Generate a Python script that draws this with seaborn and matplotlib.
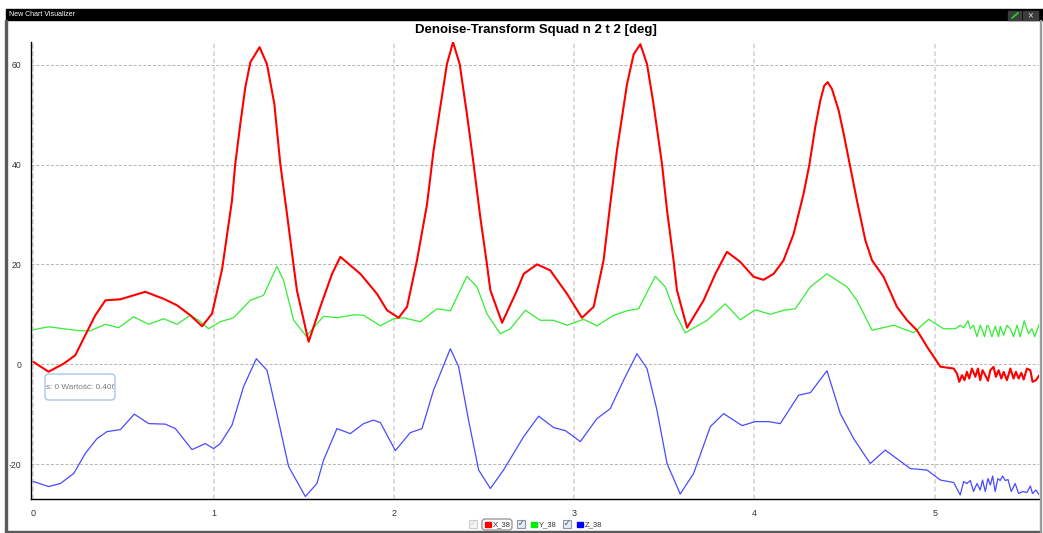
import matplotlib
matplotlib.use('Agg')
import matplotlib.pyplot as plt
import matplotlib.ticker as mticker
from matplotlib.patches import Rectangle, FancyBboxPatch
from matplotlib.lines import Line2D
from matplotlib.transforms import IdentityTransform, Bbox
import seaborn as sns

# --- data (time in s, angle in deg) ---
x38_t = [0.000, 0.085, 0.168, 0.233, 0.288, 0.344, 0.400, 0.483, 0.538, 0.621,
         0.723, 0.797, 0.871, 0.936, 0.991, 1.047, 1.102, 1.120, 1.148, 1.176,
         1.204, 1.255, 1.296, 1.337, 1.370, 1.407, 1.440, 1.462, 1.527, 1.592,
         1.657, 1.703, 1.814, 1.906, 1.962, 2.026, 2.073, 2.128, 2.184, 2.220,
         2.257, 2.294, 2.328, 2.365, 2.405, 2.442, 2.479, 2.513, 2.535, 2.600,
         2.683, 2.720, 2.794, 2.867, 2.960, 3.043, 3.108, 3.163, 3.200, 3.237,
         3.293, 3.330, 3.367, 3.404, 3.440, 3.487, 3.515, 3.551, 3.570, 3.626,
         3.718, 3.783, 3.847, 3.921, 3.995, 4.050, 4.106, 4.161, 4.217, 4.272,
         4.305, 4.337, 4.365, 4.387, 4.406, 4.430, 4.467, 4.495, 4.528, 4.568,
         4.615, 4.652, 4.716, 4.790, 4.846, 4.901, 4.957, 5.031, 5.105, 5.123,
         5.136, 5.151, 5.165, 5.178, 5.191, 5.206, 5.225, 5.239, 5.252, 5.265,
         5.280, 5.295, 5.308, 5.326, 5.339, 5.354, 5.369, 5.382, 5.400, 5.419,
         5.437, 5.450, 5.465, 5.480, 5.493, 5.511, 5.530, 5.542, 5.561, 5.580]
x38_v = [0.46, -1.5, 0.1, 1.8, 5.8, 9.8, 12.8, 13.0, 13.6, 14.5,
         13.1, 11.8, 9.8, 7.6, 10.1, 19.0, 32.8, 40.1, 48.1, 55.5,
         60.5, 63.5, 60.1, 52.1, 40.1, 30.1, 20.8, 14.8, 4.5, 11.5,
         18.1, 21.5, 18.1, 14.1, 10.8, 9.3, 11.5, 20.8, 32.1, 42.8,
         51.5, 60.1, 64.5, 60.1, 50.1, 40.1, 29.5, 20.8, 14.8, 8.3,
         14.8, 18.1, 20.0, 18.8, 14.1, 9.3, 11.5, 20.8, 32.1, 42.8,
         56.1, 62.1, 64.1, 60.1, 52.1, 40.1, 30.8, 20.8, 14.8, 7.3,
         12.8, 18.1, 22.5, 20.5, 17.5, 16.9, 18.1, 20.8, 26.1, 34.1,
         40.1, 47.5, 52.8, 55.8, 56.5, 55.1, 50.8, 46.1, 40.1, 32.8,
         24.8, 20.8, 17.5, 11.5, 8.8, 6.8, 3.5, -0.5, -0.87, -1.87,
         -3.53, -2.2, -3.2, -1.53, -2.87, -0.87, -2.53, -0.87, -3.2, -1.2,
         -2.2, -3.33, -1.2, -0.53, -2.53, -1.2, -2.87, -1.53, -3.2, -0.87,
         -2.87, -1.53, -2.87, -1.73, -3.07, -0.87, -1.2, -3.53, -3.2, -2.2]

y38_t = [0.000, 0.085, 0.168, 0.261, 0.316, 0.400, 0.473, 0.556, 0.640, 0.723,
         0.797, 0.871, 0.917, 0.972, 1.037, 1.111, 1.204, 1.277, 1.351, 1.388,
         1.444, 1.514, 1.610, 1.684, 1.777, 1.832, 1.925, 1.998, 2.054, 2.146,
         2.239, 2.313, 2.405, 2.461, 2.516, 2.590, 2.646, 2.729, 2.812, 2.886,
         2.960, 3.052, 3.126, 3.219, 3.293, 3.357, 3.450, 3.505, 3.561, 3.616,
         3.737, 3.838, 3.921, 4.004, 4.088, 4.161, 4.226, 4.310, 4.402, 4.513,
         4.568, 4.652, 4.772, 4.883, 4.966, 5.049, 5.114, 5.141, 5.160, 5.184,
         5.197, 5.215, 5.234, 5.252, 5.265, 5.276, 5.290, 5.298, 5.317, 5.335,
         5.354, 5.363, 5.382, 5.400, 5.419, 5.437, 5.456, 5.474, 5.496, 5.520,
         5.539, 5.554, 5.580]
y38_v = [6.9, 7.5, 7.1, 6.7, 6.7, 8.0, 7.3, 9.5, 8.0, 9.1,
         8.0, 9.8, 8.8, 7.1, 8.5, 9.3, 12.8, 13.8, 19.6, 16.8,
         8.8, 5.6, 9.6, 9.3, 9.9, 9.8, 7.7, 9.1, 9.3, 8.5,
         11.1, 10.7, 17.6, 15.5, 10.1, 6.1, 7.1, 10.8, 8.8, 8.8,
         7.8, 9.0, 7.7, 9.8, 10.7, 11.1, 17.6, 15.5, 10.1, 6.3,
         8.8, 12.1, 8.9, 10.9, 10.0, 10.8, 11.1, 15.5, 18.1, 15.5,
         12.8, 6.8, 7.8, 6.3, 9.0, 7.1, 7.1, 7.8, 7.3, 8.7,
         7.1, 7.8, 5.5, 7.8, 6.7, 5.5, 7.8, 7.6, 5.5, 7.6,
         5.5, 7.6, 5.8, 7.8, 7.1, 5.5, 7.8, 5.5, 8.7, 6.1,
         7.1, 5.5, 8.1]

z38_t = [0.000, 0.085, 0.150, 0.224, 0.288, 0.353, 0.409, 0.483, 0.560, 0.640,
         0.732, 0.788, 0.880, 0.954, 1.000, 1.037, 1.102, 1.166, 1.237, 1.296,
         1.351, 1.416, 1.509, 1.573, 1.610, 1.684, 1.758, 1.832, 1.887, 1.925,
         2.008, 2.091, 2.156, 2.220, 2.313, 2.359, 2.414, 2.470, 2.535, 2.608,
         2.720, 2.803, 2.886, 2.951, 3.034, 3.126, 3.200, 3.274, 3.348, 3.404,
         3.459, 3.515, 3.588, 3.662, 3.755, 3.829, 3.931, 4.004, 4.078, 4.143,
         4.245, 4.310, 4.402, 4.476, 4.550, 4.642, 4.725, 4.864, 4.957, 5.031,
         5.105, 5.141, 5.160, 5.178, 5.197, 5.215, 5.234, 5.252, 5.265, 5.280,
         5.295, 5.308, 5.321, 5.335, 5.350, 5.363, 5.376, 5.391, 5.406, 5.424,
         5.446, 5.465, 5.487, 5.511, 5.530, 5.542, 5.561, 5.580]
z38_v = [-23.5, -24.5, -23.9, -21.9, -17.9, -14.9, -13.5, -13.1, -10.0, -11.9,
         -12.0, -12.9, -17.1, -15.9, -16.9, -15.9, -12.2, -4.5, 1.1, -1.2,
         -9.9, -20.5, -26.5, -23.9, -19.2, -12.9, -13.9, -11.9, -11.2, -11.7,
         -17.3, -13.7, -12.9, -5.2, 3.1, -0.5, -11.2, -21.2, -24.9, -21.2,
         -14.5, -10.4, -12.7, -13.3, -15.5, -10.9, -8.9, -3.2, 2.1, -0.9,
         -9.2, -19.9, -26.0, -21.9, -12.5, -9.9, -12.3, -11.5, -11.5, -11.9,
         -6.2, -5.7, -1.3, -9.9, -14.9, -19.9, -17.2, -20.9, -21.2, -23.2,
         -23.7, -26.2, -23.5, -23.9, -23.3, -25.5, -23.9, -25.2, -23.2, -25.5,
         -22.9, -24.2, -22.4, -25.5, -22.9, -23.3, -22.4, -23.3, -23.1, -25.5,
         -23.9, -25.9, -25.5, -25.7, -24.4, -25.9, -25.2, -26.2]

series_names = ['X_38', 'Y_38', 'Z_38']
series_colors = ['#ff0000', '#33ee33', '#4a4aff']
legend_colors = ['#ff0000', '#00ee00', '#0000ff']
x_ticks = [0, 1, 2, 3, 4, 5]
y_ticks = [-20, 0, 20, 40, 60]
title = 'Denoise-Transform Squad n 2 t 2 [deg]'
tooltip_text = 's: 0 Wartość: 0.4065'

sns.set_style('white')
plt.rcParams['font.family'] = ['Liberation Sans', 'DejaVu Sans']

W, H = 1043, 533
fig = plt.figure(figsize=(W / 100, H / 100), dpi=100)
pix = IdentityTransform()


def fx(px):
    return px / W


def fy(py):
    return 1 - py / H


def box(x0, y0, x1, y1, **kw):
    r = Rectangle((x0, H - y1), x1 - x0, y1 - y0, transform=pix, **kw)
    fig.add_artist(r)
    return r


# window frame
box(6, 9, 1043, 20, color='black')
box(5, 20, 6.5, 532, color='#5a5a5a')
box(5, 530.5, 1041, 532, color='#5a5a5a')
box(1039.5, 20, 1041, 532, color='#9a9a9a')
fig.text(fx(9), fy(15), 'New Chart Visualizer', color='white', fontsize=5, va='center')
box(1008, 11, 1021, 20, color='#3c3c3c')
box(1023, 11, 1038, 20, color='#3c3c3c')
fig.add_artist(Line2D([1012, 1018], [H - 18, H - 13], transform=pix, color='#22cc22', lw=1.3))
fig.text(fx(1030.5), fy(15.5), '×', color='#dddddd', fontsize=7, ha='center', va='center')

fig.text(fx(536), fy(29.5), title, ha='center', va='center',
         fontsize=9.5, fontweight='bold', color='black')

# plot area
ax = fig.add_axes([fx(31), fy(499), fx(1039) - fx(31), fy(41.7) - fy(499)])
ax.set_facecolor('white')

line_kw = dict(estimator=None, sort=False, solid_joinstyle='round', solid_capstyle='round')
sns.lineplot(x=z38_t, y=z38_v, ax=ax, color=series_colors[2], linewidth=0.9, **line_kw)
sns.lineplot(x=y38_t, y=y38_v, ax=ax, color=series_colors[1], linewidth=0.9, **line_kw)
sns.lineplot(x=x38_t, y=x38_v, ax=ax, color=series_colors[0], linewidth=1.5, **line_kw)

ax.set_xlim(-0.0128, 5.578)
ax.set_ylim(-27, 64.6)
ax.set_xticks(x_ticks)
ax.set_xticklabels([str(v) for v in x_ticks])
ax.set_yticks(y_ticks)
ax.set_yticklabels([str(v) for v in y_ticks])
ax.xaxis.set_minor_locator(mticker.MultipleLocator(0.2))
ax.yaxis.set_minor_locator(mticker.MultipleLocator(5))
ax.set_xlabel('')
ax.set_ylabel('')

ax.tick_params(axis='both', which='both', direction='out', color='black',
               width=0.8, labelsize=6.5, labelcolor='#333333')
ax.tick_params(axis='x', which='major', length=4, pad=3.5)
ax.tick_params(axis='x', which='minor', length=3)
ax.tick_params(axis='y', which='major', length=5, pad=2, labelsize=6.2)
ax.tick_params(axis='y', which='minor', length=3)

for s in ['top', 'right']:
    ax.spines[s].set_visible(False)
for s in ['left', 'bottom']:
    ax.spines[s].set_color('black')
    ax.spines[s].set_linewidth(1.0)

ax.xaxis.grid(True, which='major', color='#d2d2d2', linestyle=(0, (3, 2)), linewidth=1.1)
ax.yaxis.grid(True, which='major', color='#b4b4b4', linestyle=(0, (3, 2)), linewidth=0.7)
ax.set_axisbelow(True)

# hover tooltip
tip = FancyBboxPatch((45, H - 400), 70, 26, boxstyle='round,pad=0,rounding_size=4',
                     transform=pix, fc='white', ec='#9fc0ee', lw=0.9)
fig.add_artist(tip)
tt = fig.text(fx(46), fy(387.5), tooltip_text, fontsize=5.9,
              color='#7a7a7a', va='center')
tt.set_clip_on(True)
tt.set_clip_box(Bbox.from_extents(46, H - 399, 113.5, H - 375))

# legend row with check boxes
cb_x = [469, 517, 563]
sq_x = [485, 531, 577]
for i, name in enumerate(series_names):
    disabled = i == 0
    box(cb_x[i], 520, cb_x[i] + 8, 528,
        fc='#f4f4f4' if disabled else '#e6ecf4',
        ec='#cccccc' if disabled else '#8a96aa', lw=0.8)
    fig.text(fx(cb_x[i] + 4), fy(524), '✓', fontsize=5.5, ha='center', va='center',
             color='#c8c8c8' if disabled else '#3a4460')
    box(sq_x[i], 521.5, sq_x[i] + 5.5, 527, color=legend_colors[i])
    fig.text(fx(sq_x[i] + 7.5), fy(524.5), name, fontsize=5.5, va='center',
             color='#333333')
sel = FancyBboxPatch((482, H - 530), 30, 11, boxstyle='round,pad=0,rounding_size=3',
                     transform=pix, fc='none', ec='#909090', lw=0.9)
fig.add_artist(sel)

fig.savefig('out.png', dpi=100)
